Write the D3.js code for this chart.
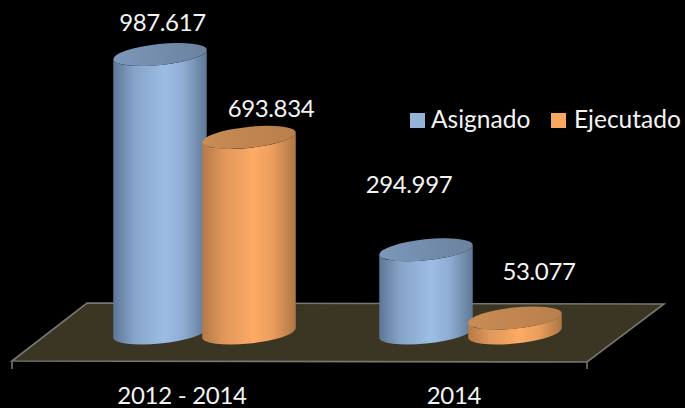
<!DOCTYPE html>
<html><head><meta charset="utf-8">
<script src="https://cdn.jsdelivr.net/npm/d3@7"></script>
<style>html,body{margin:0;padding:0;background:#000}svg{display:block}text{font-family:Lato,"Open Sans",sans-serif;fill:#f4f4f4;font-weight:400}</style>
</head><body><svg id="c" width="685" height="408"></svg>
<script>
const categories = ["2012 - 2014", "2014"];
const seriesNames = ["Asignado", "Ejecutado"];
const asignado = [987617, 294997];
const ejecutado = [693834, 53077];
const labels = [["987.617","294.997"],["693.834","53.077"]];

const svg = d3.select("#c");
const W=685,H=408;
svg.append("rect").attr("width",W).attr("height",H).attr("fill","#000");
const defs = svg.append("defs");

const palettes = [
 {id:"b", stops:["#5d7697","#86a3c8","#9dbde6","#8fadd4","#5f7894"], top:["#7d97ba","#6b829f"]},
 {id:"o", stops:["#b47a48","#e0965a","#fdaa64","#eb9e5d","#ad7646"], top:["#c88c54","#b97f4c"]}
];
palettes.forEach(p=>{
  const g=defs.append("linearGradient").attr("id","body"+p.id).attr("x1",0).attr("x2",1).attr("y1",0).attr("y2",0);
  [0,.22,.55,.75,1].forEach((o,i)=>g.append("stop").attr("offset",o).attr("stop-color",p.stops[i]));
  const t=defs.append("linearGradient").attr("id","top"+p.id).attr("x1",0).attr("x2",1).attr("y1",0).attr("y2",0);
  p.top.forEach((c,i)=>t.append("stop").attr("offset",i).attr("stop-color",c));
});

// floor
const floor=[[12,361],[87,303],[664,304],[587,362]];
svg.append("path").attr("d",d3.line()(floor)+"Z").attr("fill","#3b3523");
svg.append("path").attr("d",d3.line()(floor)+"Z").attr("fill","none").attr("stroke","#777771").attr("stroke-width",1.6);

// axis ticks at the two outer edges only
const tickEdges=[12,587];
svg.selectAll("line.tick").data(tickEdges).join("line").attr("class","tick")
  .attr("x1",d=>d).attr("x2",d=>d).attr("y1",362).attr("y2",369)
  .attr("stroke","#777771").attr("stroke-width",1.6);

const xLabel=d3.scalePoint().domain(categories).range([182,454]);
svg.selectAll("text.cat").data(categories).join("text").attr("class","cat")
  .attr("x",d=>xLabel(d)).attr("y",404).attr("text-anchor","middle").attr("font-size",24).attr("letter-spacing",-0.3).text(d=>d);

// bars
const xGroup=d3.scalePoint().domain(categories).range([204.5,470.5]);
const xSeries=d3.scalePoint().domain(seriesNames).range([-44.5,44.5]);
const y=d3.scaleLinear().domain([0,987617]).range([333,54.5]);
const rx=47, ry=10.5, rot=-6, th=rot*Math.PI/180;
const xExt=Math.sqrt(rx*rx*Math.cos(th)**2+ry*ry*Math.sin(th)**2);
const yAtExt=(rx*rx-ry*ry)*Math.sin(th)*Math.cos(th)/xExt;

const bars=[];
categories.forEach((c,i)=>{
  bars.push({c,s:0,v:asignado[i],lab:labels[0][i]});
  bars.push({c,s:1,v:ejecutado[i],lab:labels[1][i]});
});
const g=svg.selectAll("g.bar").data(bars).join("g").attr("class","bar")
  .attr("transform",d=>`translate(${xGroup(d.c)+xSeries(seriesNames[d.s])},0)`);
g.append("path").attr("fill",d=>`url(#body${palettes[d.s].id})`)
  .attr("d",d=>{
    const yt=y(d.v), yb=y(0);
    return `M${-xExt},${yt-yAtExt}L${-xExt},${yb-yAtExt}A${rx},${ry} ${rot} 0 0 ${xExt},${yb+yAtExt}L${xExt},${yt+yAtExt}A${rx},${ry} ${rot} 0 1 ${-xExt},${yt-yAtExt}Z`;
  });
g.append("ellipse").attr("rx",rx).attr("ry",ry).attr("fill",d=>`url(#top${palettes[d.s].id})`)
  .attr("transform",d=>`translate(0,${y(d.v)}) rotate(${rot})`);

// data labels (order: bars array)
const labelPos=[[162.5,31],[271,117],[409,193],[539,280]];
svg.selectAll("text.val").data(bars).join("text").attr("class","val")
  .attr("x",(d,i)=>labelPos[i][0]).attr("y",(d,i)=>labelPos[i][1])
  .attr("text-anchor","middle").attr("font-size",24).attr("letter-spacing",-0.4).text(d=>d.lab);

// legend
const legendX=[410,551], legendText=[431,574];
seriesNames.forEach((n,i)=>{
  svg.append("rect").attr("x",legendX[i]).attr("y",113).attr("width",15).attr("height",15)
    .attr("fill",i?"#f9a862":"#95b3d7");
  svg.append("text").attr("x",legendText[i]).attr("y",128).attr("font-size",24.5).text(n);
});
</script></body></html>
